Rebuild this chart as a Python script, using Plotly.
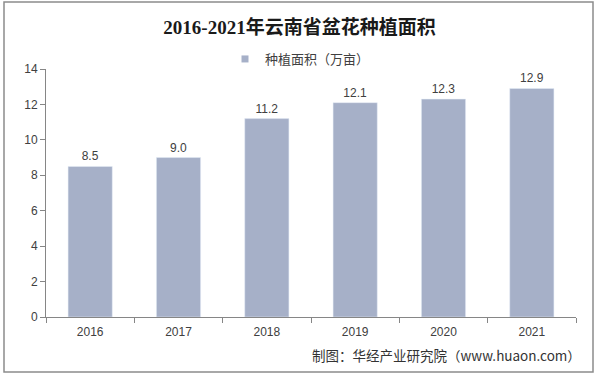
import plotly.graph_objects as go

years = ["2016", "2017", "2018", "2019", "2020", "2021"]
area = [8.5, 9.0, 11.2, 12.1, 12.3, 12.9]
labels = ["8.5", "9.0", "11.2", "12.1", "12.3", "12.9"]
series_name = "种植面积（万亩）"
title = "2016-2021年云南省盆花种植面积"
source = "制图：华经产业研究院（www.huaon.com）"

W, H = 599, 375
L, R, T, B = 46, 23, 69, 58
pw, ph = W - L - R, H - T - B
BAR_COLOR = "#A6B0C8"

def px(x):
    return (x - L) / pw

def py(y):
    return (H - B - y) / ph

fig = go.Figure()
fig.add_trace(go.Bar(
    x=years, y=area, name=series_name,
    marker=dict(color=BAR_COLOR),
    width=0.5,
    text=labels, textposition="outside",
    textfont=dict(size=12, color="#404040", family="Liberation Sans, Arial"),
    cliponaxis=False,
    showlegend=False,
))
# legend entry with a small square swatch
fig.add_trace(go.Scatter(
    x=[None], y=[None], mode="markers", name=series_name,
    marker=dict(symbol="square", size=7, color=BAR_COLOR),
    showlegend=True,
))

fig.update_layout(
    width=W, height=H,
    margin=dict(l=L, r=R, t=T, b=B),
    paper_bgcolor="white", plot_bgcolor="white",
    font=dict(family="Liberation Sans, Arial, Noto Sans CJK SC", size=12, color="#404040"),
    title=dict(text="<b>" + title + "</b>", x=0.5, xanchor="center", y=1 - 27 / H, yanchor="middle",
               font=dict(family="Liberation Serif, Times New Roman, Noto Sans CJK SC", size=19, color="#1a1a1a")),
    showlegend=True,
    legend=dict(orientation="h", x=px(300), xanchor="center", y=py(59), yanchor="middle",
                font=dict(size=13, color="#404040", family="Noto Sans CJK SC, Liberation Sans"),
                itemwidth=30, bgcolor="rgba(0,0,0,0)"),
    xaxis=dict(type="category", showline=True, linecolor="#868686", linewidth=1,
               ticks="outside", tickson="boundaries", ticklen=5, tickcolor="#868686",
               ticklabelstandoff=4,
               tickfont=dict(size=12, color="#404040"), showgrid=False, fixedrange=True),
    yaxis=dict(range=[0, 14], dtick=2, showline=True, linecolor="#868686", linewidth=1,
               ticks="outside", ticklen=5, tickcolor="#868686", showgrid=False,
               tickfont=dict(size=12, color="#404040"), zeroline=False, fixedrange=True),
    shapes=[dict(type="rect", xref="paper", yref="paper",
                 x0=px(4), x1=px(593), y0=py(372), y1=py(2),
                 line=dict(color="#8c8c8c", width=1.5), fillcolor="rgba(0,0,0,0)", layer="below")],
    annotations=[dict(text=source, xref="paper", yref="paper", x=px(583), y=py(355),
                      xanchor="right", yanchor="middle", showarrow=False,
                      font=dict(size=13.5, color="#333333", family="Noto Sans CJK SC, Liberation Sans"))],
)

fig.write_html("out.html", config={"displayModeBar": False},
               post_script="document.body.style.margin='0';document.body.style.overflow='hidden';")
